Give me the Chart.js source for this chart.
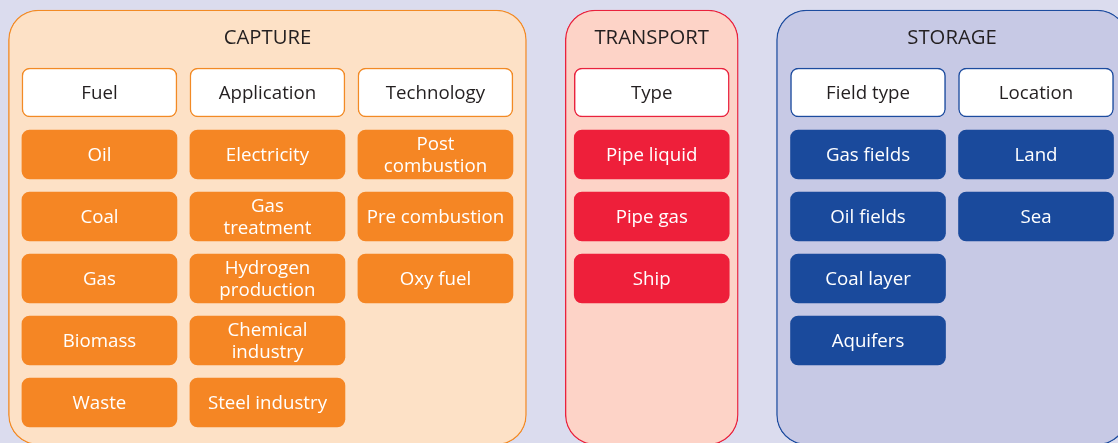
<!DOCTYPE html>
<html>
<head>
<meta charset="utf-8">
<script src="https://cdn.jsdelivr.net/npm/chart.js@4.4.1/dist/chart.umd.min.js"></script>
<style>
  html, body { margin: 0; padding: 0; background: #dbdcee; }
  #wrap { width: 1118px; height: 443px; position: relative; }
</style>
</head>
<body>
<div id="wrap"><canvas id="ccsChart"></canvas></div>
<script>
// chain stages and their columns
const groups = ['CAPTURE', 'TRANSPORT', 'STORAGE'];
const headers = ['Fuel', 'Application', 'Technology', 'Type', 'Field type', 'Location'];
const headerGroups = [0, 0, 0, 1, 2, 2];

const fuelItems = ['Oil', 'Coal', 'Gas', 'Biomass', 'Waste'];
const applicationItems = ['Electricity', 'Gas\ntreatment', 'Hydrogen\nproduction', 'Chemical\nindustry', 'Steel industry'];
const technologyItems = ['Post\ncombustion', 'Pre combustion', 'Oxy fuel'];
const typeItems = ['Pipe liquid', 'Pipe gas', 'Ship'];
const fieldTypeItems = ['Gas fields', 'Oil fields', 'Coal layer', 'Aquifers'];
const locationItems = ['Land', 'Sea'];
const columnItems = [fuelItems, applicationItems, technologyItems, typeItems, fieldTypeItems, locationItems];

// layout (units: one column / one row)
const GROUP_GAP = 0.2875;
const BOX_HALF = 24.5 / 62;
const TITLE_ROW = -0.87;
const PANEL_TOP = -1.331;
const PANEL_BOTTOM = 5.68;
const PANEL_WIDTHS = [518, 173, 351];
const BOX_WIDTH = 155;

const panelFill = ['#fde1c6', '#fdd3c7', '#c7c9e5'];
const panelBorder = ['#f28a25', '#e9223d', '#1d4c9f'];
const boxFill = ['#f58624', '#ee1f3a', '#1a4a9c'];
const FONT = '500 18.7px "Open Sans", "Noto Sans", sans-serif';
const TITLE_FONT = '500 20.3px "Open Sans", "Noto Sans", sans-serif';

function columnX(col) {
  return col + headerGroups[col] * GROUP_GAP;
}

function panelDatasets() {
  return groups.map((name, g) => {
    const cols = headers.map((_h, c) => c).filter((c) => headerGroups[c] === g);
    const x = cols.reduce((sum, c) => sum + columnX(c), 0) / cols.length;
    return {
      label: name,
      kind: 'panel',
      data: [{ x, y: [PANEL_TOP, PANEL_BOTTOM], text: name }],
      backgroundColor: panelFill[g],
      borderColor: panelBorder[g],
      borderWidth: 1.4,
      borderSkipped: false,
      borderRadius: 30,
      barThickness: PANEL_WIDTHS[g],
      order: 3
    };
  });
}

function headerDataset() {
  return {
    label: 'headers',
    kind: 'header',
    data: headers.map((h, c) => ({ x: columnX(c), y: [-BOX_HALF, BOX_HALF], text: h, g: headerGroups[c] })),
    backgroundColor: '#ffffff',
    borderColor: (ctx) => panelBorder[ctx.raw ? ctx.raw.g : 0],
    borderWidth: 1.5,
    borderSkipped: false,
    borderRadius: 8,
    barThickness: BOX_WIDTH,
    order: 1
  };
}

function itemDataset() {
  const data = [];
  columnItems.forEach((items, c) => {
    items.forEach((text, r) => {
      data.push({ x: columnX(c), y: [r + 1 - BOX_HALF, r + 1 + BOX_HALF], text, g: headerGroups[c] });
    });
  });
  return {
    label: 'items',
    kind: 'item',
    data,
    backgroundColor: (ctx) => boxFill[ctx.raw ? ctx.raw.g : 0],
    borderWidth: 0,
    borderSkipped: false,
    borderRadius: 8,
    barThickness: BOX_WIDTH,
    order: 1
  };
}

const boxLabels = {
  id: 'boxLabels',
  afterDatasetsDraw(chart) {
    const { ctx, scales } = chart;
    ctx.save();
    ctx.textAlign = 'center';
    ctx.textBaseline = 'middle';
    chart.data.datasets.forEach((ds, i) => {
      chart.getDatasetMeta(i).data.forEach((bar, j) => {
        const raw = ds.data[j];
        if (ds.kind === 'panel') {
          ctx.font = TITLE_FONT;
          ctx.fillStyle = '#231f20';
          ctx.fillText(raw.text, bar.x, scales.y.getPixelForValue(TITLE_ROW));
          return;
        }
        ctx.font = FONT;
        ctx.fillStyle = ds.kind === 'header' ? '#231f20' : '#ffffff';
        const lines = raw.text.split('\n');
        const mid = (bar.y + bar.base) / 2 + 1;
        lines.forEach((line, k) => {
          ctx.fillText(line, bar.x, mid + (k - (lines.length - 1) / 2) * 22);
        });
      });
    });
    ctx.restore();
  }
};

new Chart(document.getElementById('ccsChart'), {
  type: 'bar',
  data: { datasets: [...panelDatasets(), headerDataset(), itemDataset()] },
  options: {
    responsive: true,
    maintainAspectRatio: false,
    animation: false,
    layout: { padding: 0 },
    scales: {
      x: { type: 'linear', min: -0.592, max: 6.063, stacked: true, offset: false, display: false },
      y: { type: 'linear', min: -1.492, max: 5.653, reverse: true, stacked: false, display: false }
    },
    plugins: { legend: { display: false }, tooltip: { enabled: false } }
  },
  plugins: [boxLabels]
});
</script>
</body>
</html>
